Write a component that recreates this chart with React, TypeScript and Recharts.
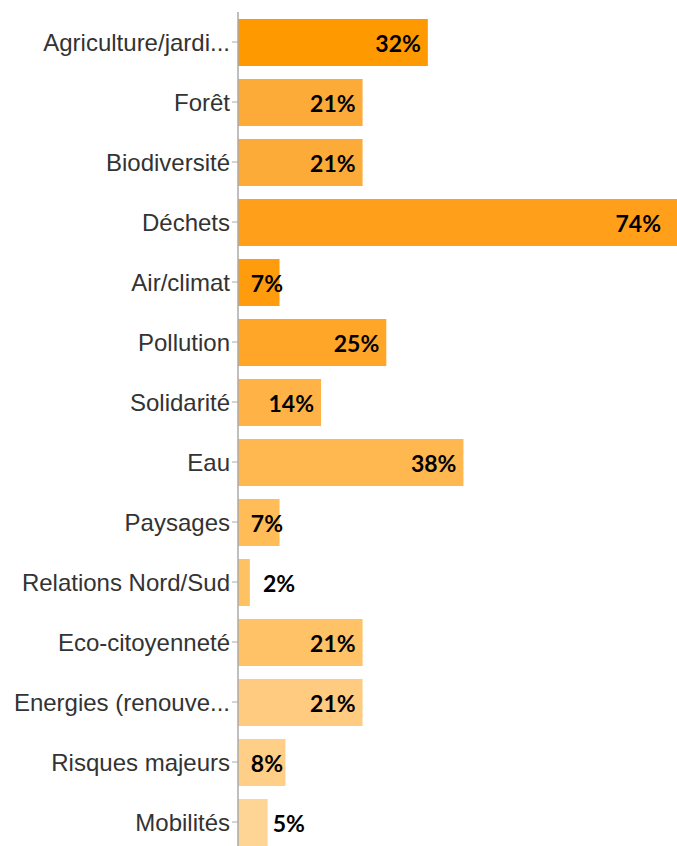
import { Bar, BarChart, Cell, LabelList, XAxis, YAxis } from "recharts"

const categories = [
  "Agriculture/jardi...",
  "Forêt",
  "Biodiversité",
  "Déchets",
  "Air/climat",
  "Pollution",
  "Solidarité",
  "Eau",
  "Paysages",
  "Relations Nord/Sud",
  "Eco-citoyenneté",
  "Energies (renouve...",
  "Risques majeurs",
  "Mobilités",
]

const percents = [32, 21, 21, 74, 7, 25, 14, 38, 7, 2, 21, 21, 8, 5]

const barColors = [
  "#ff9900",
  "#fdab38",
  "#fdab38",
  "#ff9f1a",
  "#ff9c0e",
  "#ffa628",
  "#ffb347",
  "#ffb84f",
  "#ffbc57",
  "#ffc263",
  "#ffc266",
  "#ffcb80",
  "#ffcf88",
  "#ffd596",
]

const data = categories.map((name, i) => ({ name, value: percents[i] }))

const CHART_W = 677

const renderLabel = (props: any) => {
  const { x, y, width, height, value } = props
  const text = `${value}%`
  const estW = text.length * 11.5 + 10
  const inside = width > 40
  let tx: number
  let anchor: "start" | "end"
  if (inside) {
    tx = Math.min(Math.max(x + width - 7, x + 12 + estW), CHART_W - 16)
    anchor = "end"
  } else {
    tx = Math.max(x + width + 5, x + 25)
    anchor = "start"
  }
  return (
    <text
      x={tx}
      y={y + height / 2}
      textAnchor={anchor}
      dominantBaseline="central"
      fontFamily="Lato, 'Open Sans', sans-serif"
      fontWeight={700}
      fontSize={23}
      fill="#000"
    >
      {text}
    </text>
  )
}

export default function App() {
  return (
    <div style={{ position: "absolute", top: 0, left: 0, width: 677, height: 846, overflow: "hidden", background: "#fff" }}>
      <BarChart
        layout="vertical"
        width={CHART_W}
        height={860}
        data={data}
        margin={{ top: 12, right: 0, bottom: 8, left: 0 }}
      >
        <XAxis type="number" hide domain={[0, 73.8]} />
        <YAxis
          type="category"
          dataKey="name"
          width={238}
          interval={0}
          axisLine={{ stroke: "#aaa", strokeWidth: 1.5 }}
          tickLine={{ stroke: "#aaa" }}
          tickSize={6}
          tickMargin={2}
          tick={{ fill: "#333", fontSize: 24, fontFamily: "'Liberation Sans', Arial, sans-serif" }}
        />
        <Bar dataKey="value" barSize={47} isAnimationActive={false}>
          {data.map((d, i) => (
            <Cell key={d.name} fill={barColors[i]} />
          ))}
          <LabelList dataKey="value" content={renderLabel} />
        </Bar>
      </BarChart>
    </div>
  )
}
